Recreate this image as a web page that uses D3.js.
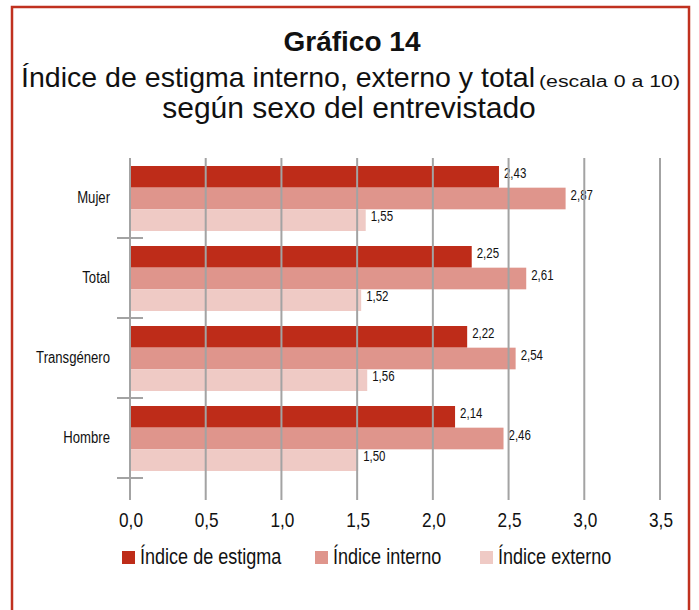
<!DOCTYPE html>
<html>
<head>
<meta charset="utf-8">
<script src="https://cdn.jsdelivr.net/npm/d3@7"></script>
<style>
  html, body { margin: 0; padding: 0; background: #fff; }
  svg { display: block; }
  text { font-family: "Liberation Sans", Arial, sans-serif; fill: #111; }
</style>
</head>
<body>
<div id="chart"></div>
<script>
// Chart data
const categories = ['Mujer', 'Total', 'Transgénero', 'Hombre'];
const seriesNames = ['Índice de estigma', 'Índice interno', 'Índice externo'];
const estigmaValues = [2.43, 2.25, 2.22, 2.14];
const internoValues = [2.87, 2.61, 2.54, 2.46];
const externoValues = [1.55, 1.52, 1.56, 1.50];
const xTicks = [0, 0.5, 1.0, 1.5, 2.0, 2.5, 3.0, 3.5];

const colors = ['#be2c19', '#df958c', '#efcac5'];
const NARROW = 0.82; // condensed look, no narrow font installed

const width = 699, height = 610;
const svg = d3.select('#chart').append('svg')
    .attr('width', width)
    .attr('height', height);

// place a text at (x,y) squeezed horizontally
function narrowAt(px, py) {
    return 'translate(' + px + ',' + py + ') scale(' + NARROW + ',1)';
}

// Frame
svg.append('rect')
    .attr('x', 12).attr('y', 7)
    .attr('width', 677).attr('height', 620)
    .attr('fill', 'none')
    .attr('stroke', '#c0311f')
    .attr('stroke-width', 2.5);

// Title
svg.append('text')
    .attr('x', 352).attr('y', 51)
    .attr('text-anchor', 'middle')
    .attr('font-size', 28)
    .attr('font-weight', 'bold')
    .text('Gráfico 14');

svg.append('text')
    .attr('x', 21).attr('y', 87)
    .attr('font-size', 28.5)
    .attr('textLength', 514)
    .attr('lengthAdjust', 'spacingAndGlyphs')
    .text('Índice de estigma interno, externo y total');

svg.append('text')
    .attr('x', 539).attr('y', 87)
    .attr('font-size', 16)
    .attr('textLength', 141)
    .attr('lengthAdjust', 'spacingAndGlyphs')
    .text('(escala 0 a 10)');

svg.append('text')
    .attr('x', 349).attr('y', 118)
    .attr('text-anchor', 'middle')
    .attr('font-size', 30)
    .text('según sexo del entrevistado');

// Scales
const x = d3.scaleLinear().domain([0, 3.5]).range([131, 661]);
const y = d3.scaleBand().domain(categories).range([158, 478]);
const ySub = d3.scaleBand().domain(seriesNames).range([8, 73]);

const fmt = d3.formatLocale({ decimal: ',', thousands: '.', grouping: [3], currency: ['', '€'] });
const fmt2 = fmt.format('.2f');
const fmt1 = fmt.format('.1f');

const rows = categories.map((c, i) => ({
    category: c,
    values: [estigmaValues[i], internoValues[i], externoValues[i]]
}));

// Bars
const groups = svg.append('g').selectAll('g')
    .data(rows)
    .enter()
    .append('g')
    .attr('transform', d => 'translate(0,' + y(d.category) + ')');

groups.selectAll('rect')
    .data(d => d.values.map((v, j) => ({ name: seriesNames[j], value: v, idx: j })))
    .enter()
    .append('rect')
    .attr('x', x(0))
    .attr('y', d => ySub(d.name))
    .attr('width', d => x(d.value) - x(0))
    .attr('height', ySub.bandwidth())
    .attr('fill', d => colors[d.idx]);

// Gridlines (drawn over the bars)
svg.append('g').selectAll('line')
    .data(xTicks)
    .enter()
    .append('line')
    .attr('x1', d => x(d) - 1).attr('x2', d => x(d) - 1)
    .attr('y1', 158).attr('y2', 500)
    .attr('stroke', '#a3a3a3')
    .attr('stroke-width', 2);

// Category ticks at band boundaries
svg.append('g').selectAll('line')
    .data(categories)
    .enter()
    .append('line')
    .attr('x1', 117).attr('x2', 143)
    .attr('y1', d => y(d) + y.bandwidth())
    .attr('y2', d => y(d) + y.bandwidth())
    .attr('stroke', '#a3a3a3')
    .attr('stroke-width', 2);

// Value labels
groups.selectAll('text.val')
    .data(d => d.values.map((v, j) => ({ name: seriesNames[j], value: v })))
    .enter()
    .append('text')
    .attr('class', 'val')
    .attr('transform', d => narrowAt(x(d.value) + 5, ySub(d.name) + ySub.bandwidth() / 2 + 1))
    .attr('font-size', 14)
    .text(d => fmt2(d.value));

// Category labels
svg.append('g').selectAll('text')
    .data(categories)
    .enter()
    .append('text')
    .attr('transform', d => narrowAt(110, y(d) + 45))
    .attr('text-anchor', 'end')
    .attr('font-size', 16)
    .text(d => d);

// X tick labels
svg.append('g').selectAll('text')
    .data(xTicks)
    .enter()
    .append('text')
    .attr('transform', d => narrowAt(x(d), 527))
    .attr('text-anchor', 'middle')
    .attr('font-size', 21)
    .text(d => fmt1(d));

// Legend
const legendX = [122, 315, 480];
const legend = svg.append('g').selectAll('g')
    .data(seriesNames)
    .enter()
    .append('g')
    .attr('transform', (d, i) => 'translate(' + legendX[i] + ',551)');

legend.append('rect')
    .attr('width', 13).attr('height', 13)
    .attr('fill', (d, i) => colors[i]);

legend.append('text')
    .attr('transform', narrowAt(18, 12.5))
    .attr('font-size', 22)
    .text(d => d);
</script>
</body>
</html>
